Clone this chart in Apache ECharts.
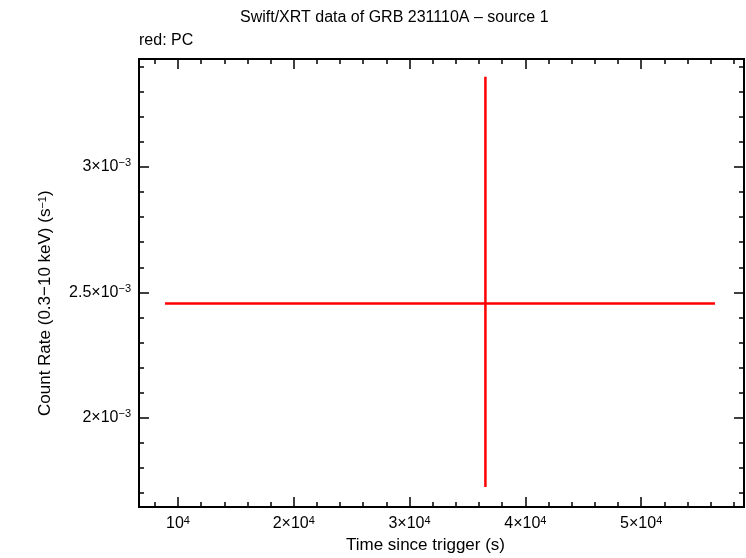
<!DOCTYPE html>
<html><head><meta charset="utf-8">
<script src="https://cdn.jsdelivr.net/npm/echarts@6/dist/echarts.min.js"></script>
<style>html,body{margin:0;padding:0;background:#fff}#c{width:746px;height:558px}</style>
</head><body><div id="c"></div>
<script>
const pointX=[36550], xErrLo=[8879], xErrHi=[56379];
const pointY=[0.002456], yErrLo=[0.001725], yErrHi=[0.003359];
const xMajor=[10000,20000,30000,40000,50000];
const yMajor=[0.002,0.0025,0.003];
const xMin=6638,xMax=58879,yMin=0.001645,yMax=0.00343;
const xMinor=[],yMinor=[];
for(let v=8000;v<=58000;v+=2000) xMinor.push(v);
for(let i=17;i<=34;i++) yMinor.push(i/10000);
const F='Liberation Sans, Arial, sans-serif';
const sup={fontSize:11,verticalAlign:'top',padding:[0,0,7,0],fontFamily:F,color:'#000'};
function xfmt(v){const n=Math.round(v/1e4);return n===1?'10{s|4}':n+'×10{s|4}';}
function yfmt(v){const n=Math.round(v*1e4)/10;return n+'×10{s|−3}';}
function xa(pos,vals,len,lab){return {type:'value',min:xMin,max:xMax,position:pos,gridIndex:0,
 axisLine:{show:true,lineStyle:{color:'#000',width:2}},splitLine:{show:false},
 axisTick:{show:true,inside:true,length:len,customValues:vals,lineStyle:{color:'#000',width:1.5}},
 axisLabel:{show:lab,customValues:xMajor,formatter:xfmt,color:'#000',fontSize:16,fontFamily:F,rich:{s:sup}}};}
function ya(pos,vals,len,lab){return {type:'value',min:yMin,max:yMax,position:pos,gridIndex:0,
 axisLine:{show:true,lineStyle:{color:'#000',width:2}},splitLine:{show:false},
 axisTick:{show:true,inside:true,length:len,customValues:vals,lineStyle:{color:'#000',width:1.5}},
 axisLabel:{show:lab,customValues:yMajor,formatter:yfmt,color:'#000',fontSize:16,fontFamily:F,rich:{s:sup}}};}
const chart=echarts.init(document.getElementById('c'));
const data=pointX.map((x,i)=>[x,pointY[i],xErrLo[i],xErrHi[i],yErrLo[i],yErrHi[i]]);
chart.setOption({
 animation:false,
 grid:{left:139,right:2,top:59,bottom:51},
 graphic:[
  {type:'text',left:240,top:10,style:{text:'Swift/XRT data of GRB 231110A – source 1',font:'16px '+F,fill:'#000'}},
  {type:'text',left:139,top:33,style:{text:'red: PC',font:'16px '+F,fill:'#000'}},
  {type:'text',left:346,top:537,style:{text:'Time since trigger (s)',font:'17px '+F,fill:'#000'}},
  {type:'text',x:37,y:416,rotation:Math.PI/2,style:{text:'Count Rate (0.3−10 keV) (s{s|−1})',font:'17px '+F,fill:'#000',rich:{s:{fontSize:11,verticalAlign:'top',fontFamily:F}}}}
 ],
 xAxis:[xa('bottom',xMajor,10,true),xa('bottom',xMinor,5,false),xa('top',xMajor,10,false),xa('top',xMinor,5,false)],
 yAxis:[ya('left',yMajor,10,true),ya('left',yMinor,5,false),ya('right',yMajor,10,false),ya('right',yMinor,5,false)],
 series:[{type:'custom',data:data,encode:{x:0,y:1},
  renderItem:function(p,api){
   const l=api.coord([api.value(2),api.value(1)]),r=api.coord([api.value(3),api.value(1)]);
   const b=api.coord([api.value(0),api.value(4)]),t=api.coord([api.value(0),api.value(5)]);
   const st={stroke:'#f00',lineWidth:2.5};
   return {type:'group',children:[
    {type:'line',shape:{x1:l[0],y1:l[1],x2:r[0],y2:r[1]},style:st},
    {type:'line',shape:{x1:b[0],y1:b[1],x2:t[0],y2:t[1]},style:st}]};
  }}]
});
</script></body></html>
